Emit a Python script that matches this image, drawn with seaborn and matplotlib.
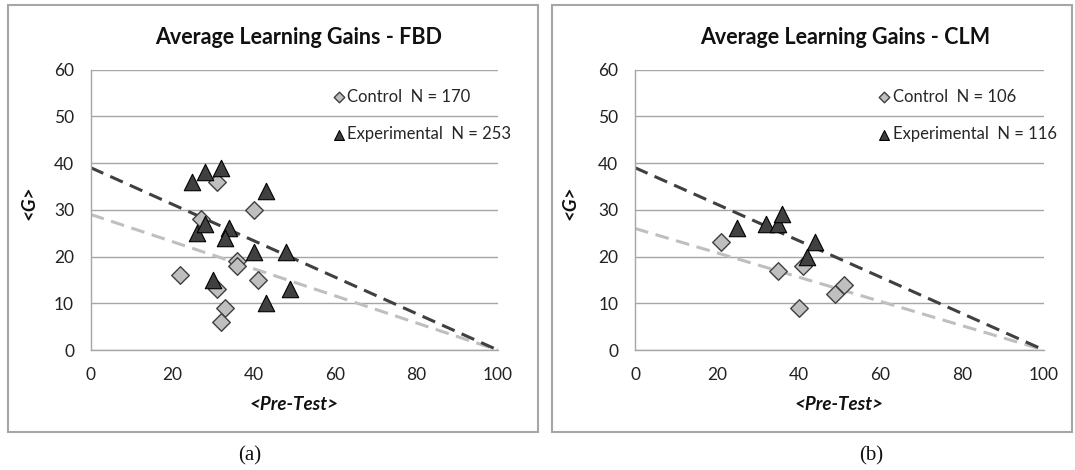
import numpy as np
import pandas as pd
import matplotlib.pyplot as plt
import seaborn as sns
from matplotlib.patches import Rectangle

# =========================
# DATA
# =========================

# panel (a) FBD
fbd_ctrl_x = [22, 27, 31, 31, 33, 32, 36, 36, 40, 41]
fbd_ctrl_y = [16, 28, 36, 13, 9, 6, 19, 18, 30, 15]
fbd_exp_x = [25, 28, 32, 43, 26, 28, 34, 33, 40, 48, 30, 49, 43]
fbd_exp_y = [36, 38, 39, 34, 25, 27, 26, 24, 21, 21, 15, 13, 10]
fbd_fit = [29, 39]          # trendline intercepts (control, experimental), all end at (100, 0)
fbd_n = [170, 253]

# panel (b) CLM
clm_ctrl_x = [21, 35, 41, 40, 49, 51]
clm_ctrl_y = [23, 17, 18, 9, 12, 14]
clm_exp_x = [25, 32, 35, 36, 44, 42]
clm_exp_y = [26, 27, 27, 29, 23, 20]
clm_fit = [26, 39]
clm_n = [106, 116]

groups = ["Control", "Experimental"]
x_ticks = [0, 20, 40, 60, 80, 100]
y_ticks = [0, 10, 20, 30, 40, 50, 60]

# =========================
# STYLE
# =========================

sns.set_theme(style="white")
plt.rcParams['font.family'] = ['Lato', 'DejaVu Sans']

light = "#BFBFBF"
dark = "#404040"
grid_col = "#A6A6A6"

fig = plt.figure(figsize=(10.75, 4.7), dpi=100)

ax_a = fig.add_axes([0.0844, 0.2553, 0.3786, 0.5968])
ax_b = fig.add_axes([0.5907, 0.2553, 0.3805, 0.5968])


def make_df(cx, cy, ex, ey):
    d1 = pd.DataFrame({"pre": cx, "gain": cy, "group": groups[0]})
    d2 = pd.DataFrame({"pre": ex, "gain": ey, "group": groups[1]})
    return pd.concat([d1, d2], ignore_index=True)


def draw_panel(ax, df, fit, n):
    # trendlines through (100, 0)
    xs = np.array([0, 100])
    for b0, col in zip(fit, [light, dark]):
        sns.lineplot(x=xs, y=b0 * (1 - xs / 100), ax=ax, color=col,
                     linewidth=2.2, zorder=2)
        ax.lines[-1].set_dashes([4.5, 2.5])

    ctrl = df[df["group"] == groups[0]]
    exp = df[df["group"] == groups[1]]
    sns.scatterplot(data=ctrl, x="pre", y="gain", ax=ax, marker="D", s=80,
                    color=light, edgecolor=dark, linewidth=1.0, zorder=3,
                    label=f"Control  N = {n[0]}")
    sns.scatterplot(data=exp, x="pre", y="gain", ax=ax, marker="^", s=140,
                    color=dark, edgecolor="black", linewidth=0.8, zorder=3,
                    label=f"Experimental  N = {n[1]}")

    ax.set_xlim(0, 100)
    ax.set_ylim(0, 60)
    ax.set_xticks(x_ticks)
    ax.set_yticks(y_ticks)
    ax.yaxis.grid(True, color=grid_col, linewidth=1.0)
    ax.xaxis.grid(False)
    ax.set_axisbelow(True)
    for s in ["top", "right"]:
        ax.spines[s].set_visible(False)
    for s in ["left", "bottom"]:
        ax.spines[s].set_color(grid_col)
        ax.spines[s].set_linewidth(1.0)
    ax.tick_params(axis="both", length=0, labelsize=12.5, colors="#222222")
    ax.tick_params(axis="y", pad=12)
    ax.tick_params(axis="x", pad=12)
    ax.set_xlabel("")
    ax.set_ylabel("")

    ax.legend(loc="upper left", bbox_to_anchor=(0.575, 0.955), frameon=False,
              fontsize=12, handletextpad=0.05, labelspacing=1.3,
              handlelength=0.9, borderaxespad=0, markerscale=0.6)


draw_panel(ax_a, make_df(fbd_ctrl_x, fbd_ctrl_y, fbd_exp_x, fbd_exp_y), fbd_fit, fbd_n)
draw_panel(ax_b, make_df(clm_ctrl_x, clm_ctrl_y, clm_exp_x, clm_exp_y), clm_fit, clm_n)

# =========================
# TEXTS
# =========================

H = 470.0
W = 1075.0

for cx, name in [(299, "FBD"), (845, "CLM")]:
    fig.text(cx / W, 1 - 38 / H, f"Average Learning Gains - {name}",
             ha="center", va="center", fontsize=15.5, fontweight="bold", color="#111111")

for cx in [294, 839]:
    fig.text(cx / W, 1 - 404 / H, "<Pre-Test>", ha="center", va="center",
             fontsize=13.5, fontweight="bold", fontstyle="italic", color="#111111")

for cx in [29, 570]:
    fig.text(cx / W, 1 - 203 / H, "<G>", ha="center", va="center", rotation=90,
             fontsize=13.5, fontweight="bold", fontstyle="italic", color="#111111")

for cx, cap in [(250, "(a)"), (871, "(b)")]:
    fig.text(cx / W, 1 - 456 / H, cap, ha="center", va="center",
             fontsize=15, family="Liberation Serif", color="#111111")

# panel frames
for x0, x1 in [(8, 538), (552, 1072)]:
    fig.add_artist(Rectangle((x0 / W, 1 - 432 / H), (x1 - x0) / W, (432 - 4.5) / H,
                             transform=fig.transFigure, fill=False,
                             edgecolor=grid_col, linewidth=1.5))

fig.savefig("out.png", dpi=100)
